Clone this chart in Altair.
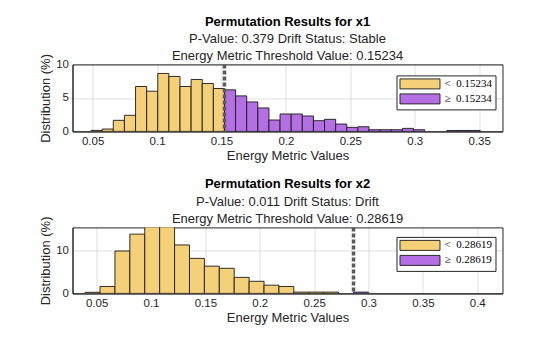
import altair as alt
import numpy as np
import pandas as pd

FONT = "Liberation Sans"
SERIF = "Liberation Serif"

# ---- data ----
x1_threshold = 0.15234
x1_first_edge = 0.0488
x1_below = [0.15, 0.35, 1.65, 2.4, 6.7, 6.0, 8.65, 8.2, 6.7, 7.75, 7.15, 6.4]
x1_above = [6.2, 5.3, 4.4, 3.5, 1.7, 2.6, 2.6, 2.3, 1.6, 1.8, 1.1, 0.6, 0.7,
            0.25, 0.25, 0.25, 0.45, 0.25, 0.0, 0.0, 0.14, 0.14, 0.14]

x2_threshold = 0.28619
x2_first_edge = 0.0394
x2_below = [0.25, 1.6, 9.8, 13.7, 16.2, 15.8, 11.2, 8.1, 6.3, 5.8, 3.7, 2.8,
            1.9, 1.6, 0.3, 0.3, 0.3, 0.0]
x2_above = [0.3]

x1_ticks = [0.05, 0.1, 0.15, 0.2, 0.25, 0.3, 0.35]
x2_ticks = [0.05, 0.1, 0.15, 0.2, 0.25, 0.3, 0.35, 0.4]
x1_yticks = [0, 5, 10]
x2_yticks = [0, 10]

YELLOW = "#F4D079"
PURPLE = "#B470E2"
# wide swatch: path spans -4..4 horizontally, -1..1 vertically
LEGEND_PATH = "M-4,-1L4,-1L4,1L-4,1Z"


def hist_table(first_edge, threshold, below, above):
    width = (threshold - first_edge) / len(below)
    lab_lo = "<\u2002" + f"{threshold:.5f}"
    lab_hi = "\u2265\u2002" + f"{threshold:.5f}"
    rows = []
    for i, v in enumerate(below):
        s = first_edge + i * width
        rows.append({"start": s, "end": s + width, "pct": v, "grp": lab_lo})
    for i, v in enumerate(above):
        s = threshold + i * width
        rows.append({"start": s, "end": s + width, "pct": v, "grp": lab_hi})
    return pd.DataFrame(rows), [lab_lo, lab_hi]


def panel(name, pval, status, first_edge, threshold, below, above,
          xdom, ydom, xticks, yticks, height, legend_y):
    df, labels = hist_table(first_edge, threshold, below, above)
    df = df[df["pct"] > 0]
    xs = alt.Scale(domain=xdom, nice=False, zero=False)
    ys = alt.Scale(domain=ydom, nice=False, zero=True)
    xaxis = alt.Axis(values=xticks, format=".2~f", title="Energy Metric Values",
                     ticks=False, labelPadding=4, titlePadding=3)
    yaxis = alt.Axis(values=yticks, title="Distribution (%)", ticks=False,
                     labelPadding=4, titlePadding=3)
    bars = alt.Chart(df).mark_rect(stroke="#1a1a1a", strokeWidth=0.9, clip=True).encode(
        x=alt.X("start:Q", scale=xs, axis=xaxis),
        x2="end:Q",
        y=alt.Y("pct:Q", scale=ys, axis=yaxis),
        y2=alt.datum(0),
        color=alt.Color("grp:N",
                        scale=alt.Scale(domain=labels, range=[YELLOW, PURPLE]),
                        legend=alt.Legend(title=None, orient="none",
                                          legendX=324, legendY=legend_y,
                                          symbolType=LEGEND_PATH, symbolSize=100,
                                          symbolOffset=15,
                                          symbolStrokeColor="#1a1a1a",
                                          symbolStrokeWidth=0.9,
                                          labelFont=SERIF, labelFontSize=11,
                                          labelColor="#000000", labelOffset=19,
                                          rowPadding=0, padding=3,
                                          fillColor="white", strokeColor="#262626",
                                          )),
    )
    rule = alt.Chart(pd.DataFrame({"t": [threshold]})).mark_rule(
        color="#5a5a5a", strokeWidth=3.5, strokeDash=[4, 2]
    ).encode(x=alt.X("t:Q", scale=xs))
    return alt.layer(bars, rule).properties(
        width=430, height=height,
        title=alt.Title(
            text=f"Permutation Results for {name}",
            subtitle=[f"P-Value: {pval} Drift Status: {status}",
                      f"Energy Metric Threshold Value: {threshold:.5f}"],
            font=FONT, fontSize=13, fontWeight="bold", color="#000000",
            subtitleFont=FONT, subtitleFontSize=13, subtitleColor="#262626",
            subtitleLineHeight=17, subtitlePadding=4.6, offset=-9.7, anchor="middle",
        ),
    )


top = panel("x1", "0.379", "Stable", x1_first_edge, x1_threshold, x1_below, x1_above,
            [0.0344, 0.3681], [0, 10], x1_ticks, x1_yticks, 67, 11)
bottom = panel("x2", "0.011", "Drift", x2_first_edge, x2_threshold, x2_below, x2_above,
               [0.0278, 0.4232], [0, 15.26], x2_ticks, x2_yticks, 66, 9.5)

chart = alt.vconcat(top, bottom, spacing=14).resolve_scale(color="independent").properties(
    padding={"left": 38.5, "top": 14.4, "right": 5, "bottom": 5},
    background="white",
).configure_view(stroke="#262626", strokeWidth=1).configure_axis(
    labelFont=FONT, labelFontSize=11.5, labelColor="#262626",
    titleFont=FONT, titleFontSize=13, titleColor="#262626", titleFontWeight="normal",
    domainColor="#262626", gridColor="#000000", gridOpacity=0.13, zindex=1,
)

chart.save("out.html", embed_options={"renderer": "svg", "actions": False})
